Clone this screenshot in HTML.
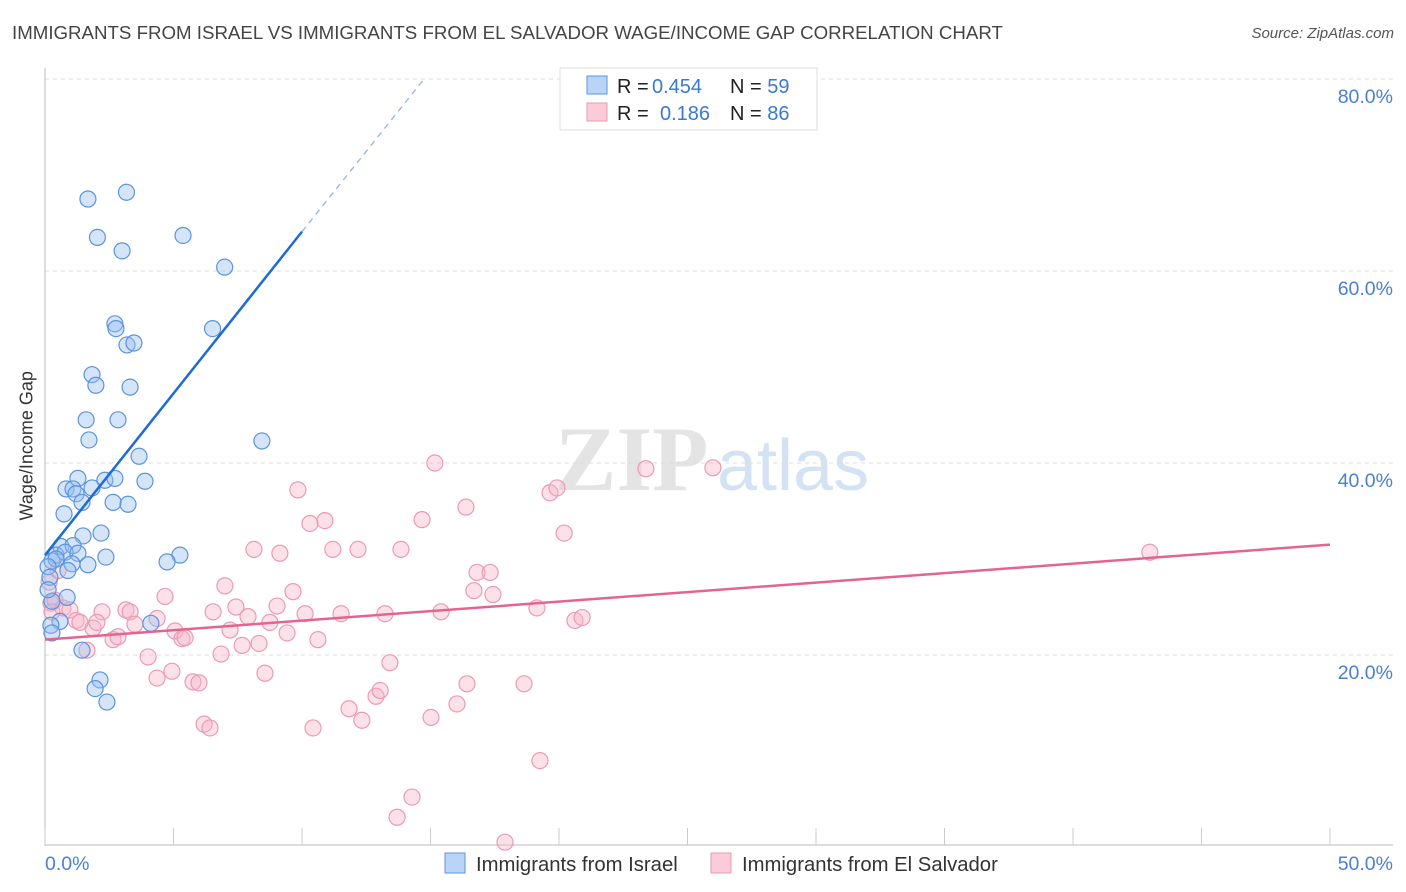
<!DOCTYPE html>
<html><head><meta charset="utf-8"><style>
body{margin:0;background:#fff;font-family:"Liberation Sans",sans-serif;}
#wrap{position:relative;width:1406px;height:892px;overflow:hidden;}
.t{position:absolute;white-space:nowrap;}
</style></head><body>
<div id="wrap">
<div class="t" style="left:12px;top:22px;font-size:18.7px;color:#444;">IMMIGRANTS FROM ISRAEL VS IMMIGRANTS FROM EL SALVADOR WAGE/INCOME GAP CORRELATION CHART</div>
<div class="t" style="right:12px;top:25px;font-size:15px;color:#555;font-style:italic;">Source: ZipAtlas.com</div>
<div class="t" style="left:-38px;top:445px;font-size:18px;color:#333;transform:rotate(-90deg);width:130px;text-align:center;">Wage/Income Gap</div>
<svg id="svg" width="1406" height="892" style="position:absolute;left:0;top:0"></svg>
</div>
<script>
const israelX=[1.67,3.17,2.04,3.0,5.37,6.99,2.72,2.76,3.19,3.46,6.52,1.83,1.98,3.31,1.6,2.84,1.71,8.44,3.66,3.89,1.28,2.33,2.72,0.82,1.09,1.21,1.83,1.44,2.65,3.23,0.74,1.48,2.18,0.62,1.09,0.43,0.78,1.28,2.37,5.25,0.27,0.43,4.75,1.67,1.05,0.89,0.12,0.86,0.27,0.58,0.23,0.27,4.12,1.44,2.14,1.95,2.41,0.19,0.12];
const israelY=[67.5,68.2,63.5,62.1,63.7,60.4,54.5,54.0,52.3,52.5,54.0,49.2,48.1,47.9,44.5,44.5,42.4,42.3,40.7,38.1,38.4,38.2,38.4,37.3,37.3,36.8,37.4,35.9,35.9,35.7,34.7,32.4,32.7,31.3,31.4,30.4,30.7,30.6,30.2,30.4,29.8,30.0,29.7,29.4,29.5,28.8,29.2,26.0,25.6,23.5,23.1,22.3,23.3,20.5,17.4,16.5,15.1,28.1,26.8];
const salvX=[0.16,0.51,0.23,0.39,0.7,0.97,0.27,1.21,1.87,1.63,1.36,2.22,2.02,2.65,2.84,3.15,3.31,3.5,4.01,4.36,4.67,4.36,4.94,5.06,5.33,5.45,5.76,5.99,6.19,6.42,6.54,6.85,7.0,7.2,7.43,7.67,7.9,8.13,8.33,8.56,8.75,9.03,9.14,9.42,9.65,9.84,10.12,10.31,10.43,10.62,10.89,11.2,11.52,11.83,12.18,12.33,12.88,13.04,13.23,13.42,13.85,14.28,13.7,14.67,15.02,15.17,15.41,16.03,16.38,16.69,16.81,17.43,17.9,17.32,18.64,19.14,19.26,19.65,19.92,20.2,20.62,20.9,23.38,25.99,42.99,16.42];
const salvY=[27.6,28.8,25.4,25.7,24.9,24.7,24.5,23.6,22.8,20.5,23.4,24.5,23.4,21.6,21.9,24.7,24.5,23.2,19.8,23.8,26.1,17.6,18.3,22.5,21.7,21.8,17.2,17.1,12.8,12.4,24.5,20.1,27.2,22.6,25.0,21.0,24.0,31.0,21.2,18.1,23.4,25.1,30.6,22.3,26.6,37.2,24.3,33.7,12.4,21.6,34.0,31.0,24.3,14.4,31.0,13.2,15.7,16.3,24.3,19.2,31.0,5.2,3.1,34.1,13.5,40.0,24.5,14.9,35.4,26.7,28.6,26.3,0.5,28.6,17.0,24.9,9.0,36.9,37.4,32.7,23.6,23.9,39.4,39.5,30.7,17.0];
const yTicks=[20,40,60,80];
const yTickLabels=["20.0%","40.0%","60.0%","80.0%"];
const israelTrend=[[0,30.4],[10,64.1],[14.75,80]];
const salvTrend=[[0,21.6],[50,31.5]];
const NS="http://www.w3.org/2000/svg";
const svg=document.getElementById('svg');
const X0=45,X1=1330,YB=847,YT=79;
const sx=v=>X0+(v/50)*(X1-X0);
const sy=v=>YB-(v/80)*(YB-YT);
function mk(tag,attrs){const e=document.createElementNS(NS,tag);for(const k in attrs)e.setAttribute(k,attrs[k]);svg.appendChild(e);return e;}
let wm=mk('text',{x:555,y:490,'font-size':92,'font-family':'Liberation Serif, serif',fill:'#e4e4e4','font-weight':'bold'});wm.textContent='ZIP';

let wm2=mk('text',{x:717,y:490,'font-size':72,'font-family':'Liberation Sans, sans-serif',fill:'#d4e3f4'});wm2.textContent='atlas';

yTicks.forEach((t,i)=>{
 const g=mk('line',{x1:X0,x2:1393,y1:sy(t),y2:sy(t),stroke:'#ddd','stroke-dasharray':'4,4'});
 
 const l=mk('text',{x:1393,y:sy(t)+24,'text-anchor':'end','font-size':19.5,fill:'#4a7fd4','font-family':'Liberation Sans, sans-serif'});
 l.textContent=yTickLabels[i];
 
});
let ax=mk('line',{x1:X0,x2:X0,y1:68,y2:846,stroke:'#bbb'});
let bx=mk('line',{x1:X0,x2:1393,y1:845,y2:845,stroke:'#bbb'});
for(let i=0;i<=10;i++){const tk=mk('line',{x1:sx(i*5),x2:sx(i*5),y1:828,y2:845,stroke:'#ccc'});}
function dots(xs,ys,fill,stroke,name){xs.forEach((v,i)=>{const c=mk('circle',{cx:sx(v),cy:sy(ys[i]),r:8,fill:fill,stroke:stroke,'stroke-width':1.2});});}
dots(salvX,salvY,'rgba(248,180,200,0.4)','#eb9ab4','el-salvador-point');
dots(israelX,israelY,'rgba(150,190,240,0.4)','#5b93dd','israel-point');
let t1=mk('line',{x1:sx(israelTrend[0][0]),y1:sy(israelTrend[0][1]),x2:sx(israelTrend[1][0]),y2:sy(israelTrend[1][1]),stroke:'#1f6bd6','stroke-width':2.5});

let t1d=mk('line',{x1:sx(israelTrend[1][0]),y1:sy(israelTrend[1][1]),x2:sx(israelTrend[2][0]),y2:sy(israelTrend[2][1]),stroke:'#8fb4e6','stroke-width':1.3,'stroke-dasharray':'6,5'});

let t2=mk('line',{x1:sx(salvTrend[0][0]),y1:sy(salvTrend[0][1]),x2:sx(salvTrend[1][0]),y2:sy(salvTrend[1][1]),stroke:'#e5648f','stroke-width':2.5});

let xl0=mk('text',{x:45,y:870,'font-size':19.5,fill:'#4a7fd4'});xl0.textContent='0.0%';
let xl1=mk('text',{x:1393,y:870,'font-size':19.5,fill:'#4a7fd4','text-anchor':'end'});xl1.textContent='50.0%';
let lb=mk('rect',{x:560,y:68,width:257,height:62,fill:'#fff',stroke:'#ddd'});
function stat(y,fill,stroke,r,n,nm){
 const s=mk('rect',{x:587,y:y-10,width:20,height:18,fill:fill,stroke:stroke});
 const t=mk('text',{x:617,y:y+7,'font-size':20,fill:'#222'});
 t.innerHTML='R = <tspan fill="#3a78d4" x="'+(r.startsWith('0.1')?660:652)+'">'+r+'</tspan><tspan x="730">N = </tspan><tspan fill="#3a78d4">'+n+'</tspan>';
}
stat(86,'#b9d4f6','#5b93dd','0.454','59','israel');
stat(113,'#fbcbd9','#eb9ab4','0.186','86','el-salvador');
let s1=mk('rect',{x:445,y:853,width:20,height:20,fill:'#b9d4f6',stroke:'#5b93dd'});
let lt1=mk('text',{x:476,y:871,'font-size':20.3,fill:'#333'});lt1.textContent='Immigrants from Israel';
let s2=mk('rect',{x:711,y:853,width:20,height:20,fill:'#fbcbd9',stroke:'#eb9ab4'});
let lt2=mk('text',{x:742,y:871,'font-size':20.3,fill:'#333'});lt2.textContent='Immigrants from El Salvador';
</script>
</body></html>
